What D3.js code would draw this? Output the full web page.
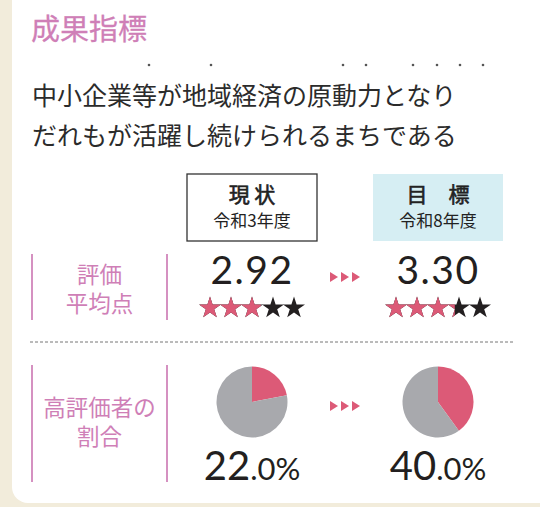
<!DOCTYPE html>
<html>
<head>
<meta charset="utf-8">
<script src="https://cdn.jsdelivr.net/npm/d3@7"></script>
<style>
  html, body { margin: 0; padding: 0; background: #f2ecdb; }
  svg { display: block; }
</style>
</head>
<body>
<div id="chart"></div>
<script>
// data
const title = "成果指標"
const goalLines = ["中小企業等が地域経済の原動力となり", "だれもが活躍し続けられるまちである"]
const periods = ["現 状", "目　標"]
const fiscalYears = ["令和3年度", "令和8年度"]
const rowLabels = [["評価", "平均点"], ["高評価者の", "割合"]]
const avgScores = [2.92, 3.30]
const highShare = [22.0, 40.0]
const maxStars = 5

const W = 540, H = 507
const jp = "'Noto Sans CJK JP', 'Noto Sans', sans-serif"
const num = "Lato, 'Noto Sans', sans-serif"
const pink = "#cf7fb7", red = "#dc5a77", grey = "#a8a9ad", ink = "#231f20"

const svg = d3.select("#chart").append("svg")
  .attr("width", W).attr("height", H)

svg.append("rect").attr("width", W).attr("height", H).attr("fill", "#f2ecdb")
// white card
svg.append("rect")
  .attr("x", 12).attr("y", -20).attr("width", W + 10).attr("height", 523)
  .attr("rx", 16).attr("fill", "#fff")

svg.append("text")
  .attr("x", 31).attr("y", 40)
  .attr("font-family", jp).attr("font-size", 29).attr("fill", pink)
  .attr("stroke", pink).attr("stroke-width", 0.3)
  .text(title)

// emphasis dots above the goal text
const dotX = [149, 211, 343, 366, 413, 437, 460, 483]
svg.selectAll(".dot").data(dotX).join("circle")
  .attr("class", "dot")
  .attr("cx", d => d).attr("cy", 65).attr("r", 1.3).attr("fill", "#555")

svg.selectAll(".goal").data(goalLines).join("text")
  .attr("class", "goal")
  .attr("x", 32).attr("y", (d, i) => 105 + i * 40)
  .attr("font-family", jp).attr("font-size", 25).attr("fill", "#2b2b2b")
  .text(d => d)

// column positions
const x = d3.scalePoint().domain([0, 1]).range([252, 438])
const boxW = 130
const midX = (x(0) + x(1)) / 2

// header boxes
const head = svg.selectAll(".head").data(periods).join("g")
  .attr("class", "head")
  .attr("transform", (d, i) => `translate(${x(i)},0)`)
head.append("rect")
  .attr("x", -boxW / 2).attr("y", 174).attr("width", boxW).attr("height", 67)
  .attr("fill", (d, i) => i === 0 ? "#fff" : "#d6eef3")
  .attr("stroke", (d, i) => i === 0 ? "#333" : "none")
  .attr("stroke-width", 1.3)
head.append("text")
  .attr("y", 202).attr("text-anchor", "middle")
  .attr("font-family", jp).attr("font-size", 21).attr("fill", "#222")
  .attr("stroke", "#222").attr("stroke-width", 0.6)
  .text(d => d)
head.append("text")
  .attr("y", 227).attr("text-anchor", "middle")
  .attr("font-family", jp).attr("font-size", 17).attr("fill", "#222")
  .text((d, i) => fiscalYears[i])

// row label frames
const rowTop = [254, 365], rowBot = [320, 482]
const labelBase = [283, 416]
rowLabels.forEach((lines, r) => {
  ;[32, 167].forEach(lx => {
    svg.append("line")
      .attr("x1", lx).attr("x2", lx).attr("y1", rowTop[r]).attr("y2", rowBot[r])
      .attr("stroke", "#d591c1").attr("stroke-width", 2)
  })
  const t = svg.append("text")
    .attr("y", labelBase[r]).attr("text-anchor", "middle")
    .attr("font-family", jp).attr("font-size", 22.5).attr("fill", pink)
  t.selectAll("tspan").data(lines).join("tspan")
    .attr("x", 99.5).attr("dy", (d, j) => j === 0 ? 0 : 28.5)
    .text(d => d)
})

// arrows between columns
const arrowY = [277, 406]
arrowY.forEach(ay => {
  d3.range(3).forEach(k => {
    const ax = midX - 15 + k * 11
    svg.append("path")
      .attr("d", `M${ax},${ay - 5} L${ax + 8},${ay} L${ax},${ay + 5} Z`)
      .attr("fill", red)
  })
})

// row 1: average score + stars
const starGap = 21
const starX = d3.scaleLinear().domain([0, maxStars]).range([-starGap * maxStars / 2, starGap * maxStars / 2])
const star = d3.symbol(d3.symbolStar, 150)

const score = svg.selectAll(".score").data(avgScores).join("g")
  .attr("class", "score")
  .attr("transform", (d, i) => `translate(${x(i)},0)`)
score.append("text")
  .attr("y", 284).attr("text-anchor", "middle")
  .attr("font-family", num).attr("font-size", 39).attr("letter-spacing", 1.5).attr("fill", ink)
  .text(d => d.toFixed(2))

score.each(function (d, i) {
  const g = d3.select(this)
  const clipId = "starclip" + i
  g.append("clipPath").attr("id", clipId)
    .append("rect")
    .attr("x", starX(0)).attr("y", 290)
    .attr("width", starX(d) - starX(0)).attr("height", 30)
  const stars = d3.range(maxStars)
  g.selectAll(".sb").data(stars).join("path")
    .attr("class", "sb")
    .attr("d", star)
    .attr("transform", s => `translate(${starX(s + 0.5)},308)`)
    .attr("fill", ink)
  g.append("g").attr("clip-path", `url(#${clipId})`)
    .selectAll("path").data(stars).join("path")
    .attr("d", star)
    .attr("transform", s => `translate(${starX(s + 0.5)},308)`)
    .attr("fill", red)
})

// divider
svg.append("line")
  .attr("x1", 30).attr("x2", 515).attr("y1", 342).attr("y2", 342)
  .attr("stroke", "#777").attr("stroke-width", 1).attr("stroke-dasharray", "3,2")

// row 2: pies + percent
const pie = d3.pie().sort(null)
const arc = d3.arc().innerRadius(0).outerRadius(35.5)

const share = svg.selectAll(".share").data(highShare).join("g")
  .attr("class", "share")
  .attr("transform", (d, i) => `translate(${x(i)},0)`)

share.append("g")
  .attr("transform", "translate(0,402)")
  .selectAll("path")
  .data(d => pie([d, 100 - d]))
  .join("path")
  .attr("d", arc)
  .attr("fill", (d, k) => k === 0 ? red : grey)

const pct = share.append("text")
  .attr("y", 480).attr("text-anchor", "middle")
  .attr("font-family", num).attr("fill", ink)
pct.append("tspan").attr("font-size", 40).text(d => Math.floor(d))
pct.append("tspan").attr("font-size", 31).text(d => "." + d.toFixed(1).split(".")[1] + "%")
</script>
</body>
</html>
